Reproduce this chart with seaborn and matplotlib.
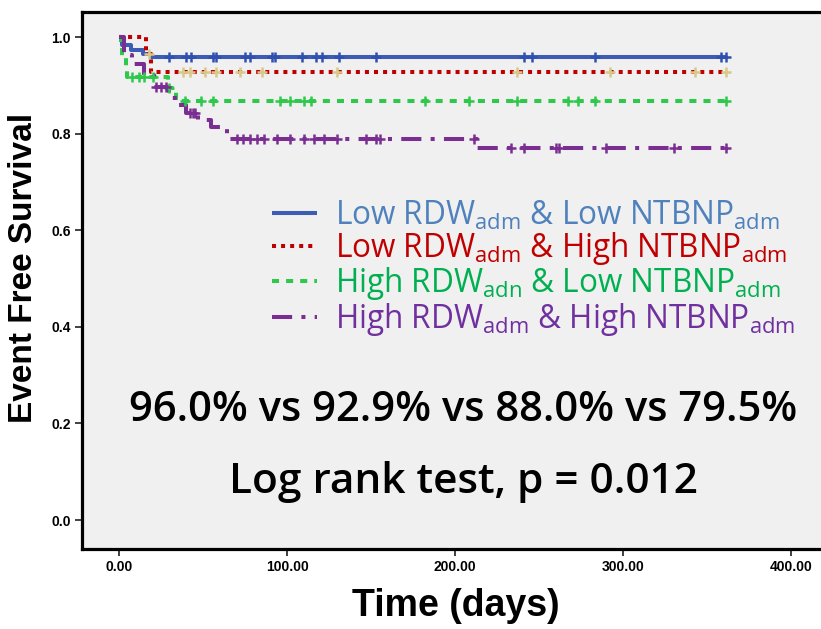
import numpy as np
import matplotlib
matplotlib.use('Agg')
import matplotlib.pyplot as plt
import seaborn as sns

# Kaplan-Meier steps (time in days, survival)
blue_t = [0, 2, 7, 14, 19, 361]
blue_s = [1.0, 0.984, 0.973, 0.965, 0.958, 0.958]
red_t = [0, 16, 19, 361]
red_s = [1.0, 0.964, 0.927, 0.927]
green_t = [0, 1, 2, 4, 5, 29, 34, 361]
green_s = [1.0, 0.979, 0.957, 0.937, 0.917, 0.894, 0.867, 0.867]
purple_t = [0, 3, 8, 15, 21, 30, 35, 40, 47, 55, 64, 213, 361]
purple_s = [1.0, 0.962, 0.945, 0.921, 0.896, 0.873, 0.859, 0.842, 0.828, 0.814, 0.788, 0.770, 0.770]

# censored observations
blue_c = [30, 40, 43, 56, 58, 75, 78, 91, 93, 109, 117, 121, 131, 153, 241, 246, 283, 358, 361]
red_c = [18, 38, 42, 51, 58, 72, 85, 130, 237, 292, 343, 361]
green_c = [8, 12, 15, 20, 30, 39, 49, 56, 96, 102, 110, 114, 182, 208, 237, 267, 273, 283, 361]
purple_c = [22, 25, 28, 42, 44, 45, 70, 74, 78, 82, 86, 94, 102, 110, 116, 122, 130,
            147, 153, 155, 211, 233, 241, 260, 262, 290, 330, 361]

labels = ['Low RDW$_{\\mathregular{adm}}$ & Low NTBNP$_{\\mathregular{adm}}$',
          'Low RDW$_{\\mathregular{adm}}$ & High NTBNP$_{\\mathregular{adm}}$',
          'High RDW$_{\\mathregular{adn}}$ & Low NTBNP$_{\\mathregular{adm}}$',
          'High RDW$_{\\mathregular{adm}}$ & High NTBNP$_{\\mathregular{adm}}$']
line_colors = ['#3D5DB5', '#C00000', '#2EC84A', '#7A2E92']
mark_colors = ['#3050B0', '#D8C88A', '#2EC84A', '#7A2E92']
text_colors = ['#4F81BD', '#C00000', '#00B050', '#7030A0']
dashes = [(None, None), (1.0, 1.25), (1.75, 1.75), (5.0, 2.3, 1.0, 2.3)]

x_ticks = [0, 100, 200, 300, 400]
y_ticks = [0.0, 0.2, 0.4, 0.6, 0.8, 1.0]

sns.set_style('white')
plt.rcParams['font.family'] = ['Liberation Sans', 'DejaVu Sans']
plt.rcParams['mathtext.fontset'] = 'custom'

fig = plt.figure(figsize=(8.21, 6.29), dpi=100)
ax = fig.add_axes([82 / 821, 80 / 629, 753 / 821, 537 / 629])
ax.set_facecolor('#F0F0F0')

groups = [(blue_t, blue_s, blue_c), (red_t, red_s, red_c),
          (green_t, green_s, green_c), (purple_t, purple_s, purple_c)]
handles = []
for (t, s, c), lc, mc, d in zip(groups, line_colors, mark_colors, dashes):
    sns.lineplot(x=t, y=s, ax=ax, drawstyle='steps-post', color=lc, lw=2.9,
                 estimator=None, sort=False)
    ln = ax.get_lines()[-1]
    ln.set_solid_capstyle('butt')
    ln.set_dash_capstyle('butt')
    if d[0] is not None:
        ln.set_dashes(d)
    handles.append(ln)
    idx = np.searchsorted(t, c, side='right') - 1
    cy = np.array(s)[idx]
    sns.scatterplot(x=c, y=cy, ax=ax, marker='+', color=mc, s=60, linewidth=1.8, zorder=4)

ax.set_xlim(-22, 426)
ax.set_ylim(-0.060, 1.052)
ax.set_xticks(x_ticks)
ax.set_xticklabels([f'{v:.2f}' for v in x_ticks])
ax.set_yticks(y_ticks)
ax.set_yticklabels([f'{v:.1f}' for v in y_ticks])
ax.tick_params(axis='both', direction='out', length=5, width=1.3, color='#333333',
               labelsize=10, pad=3, bottom=True, left=True, labelcolor='black')
for lab in ax.get_xticklabels() + ax.get_yticklabels():
    lab.set_fontweight('bold')

for side in ['left', 'bottom', 'top']:
    ax.spines[side].set_linewidth(2.3)
    ax.spines[side].set_color('black')
ax.spines['right'].set_visible(False)

ax.set_xlabel('Time (days)', fontsize=27, fontweight='bold', va='center', ha='center',
              color='black')
ax.xaxis.set_label_coords(0.497, -0.106)
ax.set_ylabel('Event Free Survival', fontsize=24, fontweight='bold', va='center', ha='center',
              color='black')
ax.yaxis.set_label_coords(-0.078, 0.523)

leg = ax.legend(handles, labels, loc='upper left', bbox_to_anchor=(0.252, 0.652),
                frameon=False, borderpad=0, borderaxespad=0, handlelength=1.45,
                handletextpad=0.55, labelspacing=-0.06,
                prop={'family': ['Open Sans', 'DejaVu Sans'], 'size': 22.7})
for txt, col in zip(leg.get_texts(), text_colors):
    txt.set_color(col)

ax.text(0.506, 0.259, '96.0% vs 92.9% vs 88.0% vs 79.5%', transform=ax.transAxes,
        ha='center', va='center', fontsize=30, fontweight='semibold', color='black',
        family=['Open Sans', 'DejaVu Sans'])
ax.text(0.506, 0.125, 'Log rank test, p = 0.012', transform=ax.transAxes,
        ha='center', va='center', fontsize=30.5, fontweight='semibold', color='black',
        family=['Open Sans', 'DejaVu Sans'])

fig.savefig('out.png', dpi=100)
